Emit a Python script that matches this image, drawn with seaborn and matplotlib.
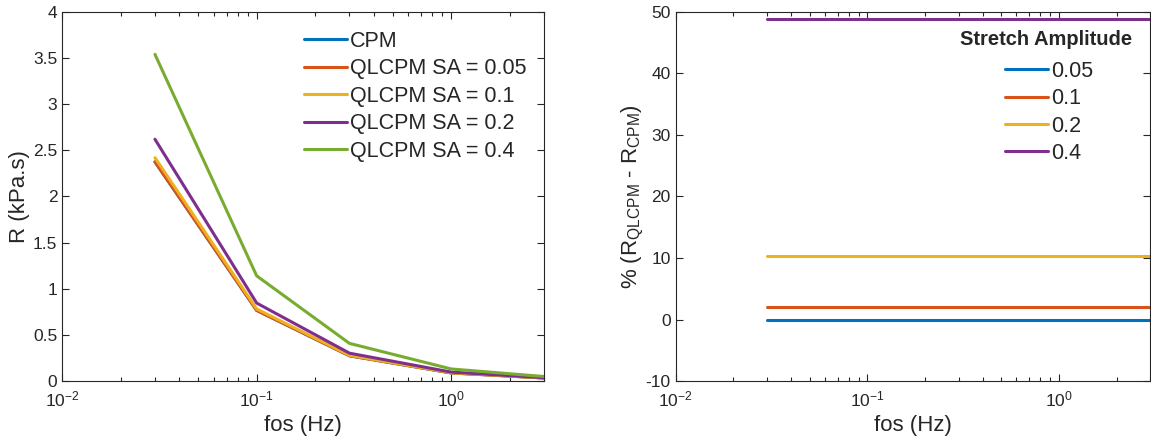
import numpy as np
import pandas as pd
import matplotlib
matplotlib.use("Agg")
import matplotlib.pyplot as plt
import seaborn as sns
from matplotlib.ticker import LogLocator, NullFormatter

# Oscillation frequencies (Hz)
fos = [0.03, 0.1, 0.3, 1.0, 3.0]

# Resistance R (kPa.s) for each model
r_cpm = [2.375, 0.766, 0.274, 0.088, 0.033]
r_sa005 = [2.375, 0.766, 0.274, 0.088, 0.033]
r_sa01 = [2.42, 0.781, 0.279, 0.090, 0.034]
r_sa02 = [2.62, 0.845, 0.302, 0.097, 0.036]
r_sa04 = [3.54, 1.140, 0.408, 0.131, 0.049]

left_labels = ["CPM", "QLCPM SA = 0.05", "QLCPM SA = 0.1",
               "QLCPM SA = 0.2", "QLCPM SA = 0.4"]

# Percent difference of QLCPM relative to CPM for each stretch amplitude
pct_sa005 = [0.0, 0.0, 0.0, 0.0, 0.0]
pct_sa01 = [2.0, 2.0, 2.0, 2.0, 2.0]
pct_sa02 = [10.3, 10.3, 10.3, 10.3, 10.3]
pct_sa04 = [48.8, 48.8, 48.8, 48.8, 48.8]

right_labels = ["0.05", "0.1", "0.2", "0.4"]

colors = ["#0072BD", "#D95319", "#EDB120", "#7E2F8E", "#77AC30"]

sns.set_style("ticks")
plt.rcParams["font.family"] = ["Liberation Sans", "DejaVu Sans"]
plt.rcParams["mathtext.fontset"] = "custom"
plt.rcParams["mathtext.rm"] = "Liberation Sans"
plt.rcParams["mathtext.it"] = "Liberation Sans"
plt.rcParams["axes.unicode_minus"] = False

axis_gray = "#262626"

left_df = pd.concat([
    pd.DataFrame({"fos": fos, "R": vals, "model": name})
    for name, vals in zip(left_labels, [r_cpm, r_sa005, r_sa01, r_sa02, r_sa04])
])
right_df = pd.concat([
    pd.DataFrame({"fos": fos, "pct": vals, "SA": name})
    for name, vals in zip(right_labels, [pct_sa005, pct_sa01, pct_sa02, pct_sa04])
])

fig = plt.figure(figsize=(11.51, 4.40), dpi=100)
ax1 = fig.add_axes([0.054, 0.134, 0.4186, 0.839])
ax2 = fig.add_axes([0.587, 0.134, 0.4125, 0.839])

sns.lineplot(data=left_df, x="fos", y="R", hue="model", palette=colors,
             hue_order=left_labels, linewidth=2.2, ax=ax1, legend=False)
sns.lineplot(data=right_df, x="fos", y="pct", hue="SA", palette=colors[:4],
             hue_order=right_labels, linewidth=2.2, ax=ax2, legend=False)


def style_axis(ax, ylim, yticks):
    ax.set_xscale("log")
    ax.set_xlim(0.01, 3)
    ax.set_ylim(*ylim)
    ax.set_yticks(yticks)
    ax.xaxis.set_major_locator(LogLocator(base=10, numticks=10))
    ax.xaxis.set_minor_locator(LogLocator(base=10, subs=np.arange(2, 10), numticks=20))
    ax.xaxis.set_minor_formatter(NullFormatter())
    ax.tick_params(which="both", direction="in", top=True, right=True,
                   colors=axis_gray, labelsize=12.5, width=0.8)
    ax.tick_params(which="major", length=5)
    ax.tick_params(which="minor", length=3)
    ax.tick_params(axis="x", pad=6)
    for sp in ax.spines.values():
        sp.set_visible(True)
        sp.set_color(axis_gray)
        sp.set_linewidth(0.8)
    ax.set_xlabel("fos (Hz)", fontsize=16, color=axis_gray, labelpad=4)


style_axis(ax1, (0, 4), [0, 0.5, 1, 1.5, 2, 2.5, 3, 3.5, 4])
ax1.set_yticklabels(["0", "0.5", "1", "1.5", "2", "2.5", "3", "3.5", "4"])
ax1.set_ylabel("R (kPa.s)", fontsize=16, color=axis_gray, labelpad=2)
style_axis(ax2, (-10, 50), [-10, 0, 10, 20, 30, 40, 50])
ax2.set_ylabel(r"% (R$_{\mathrm{QLCPM}}$ - R$_{\mathrm{CPM}}$)",
               fontsize=16, color=axis_gray, labelpad=0)

h1 = ax1.get_lines()[:5]
ax1.legend(h1, left_labels, loc="upper left", bbox_to_anchor=(0.502, 0.949),
           frameon=False, fontsize=15.5, handlelength=2.0, handletextpad=0.12,
           labelspacing=0.3, borderpad=0, borderaxespad=0)

h2 = ax2.get_lines()[:4]
ax2.legend(h2, right_labels, loc="upper left", bbox_to_anchor=(0.694, 0.868),
           frameon=False, fontsize=15.5, handlelength=2.0, handletextpad=0.12,
           labelspacing=0.3, borderpad=0, borderaxespad=0)
ax2.text(0.781, 0.924, "Stretch Amplitude", transform=ax2.transAxes,
         ha="center", va="center", fontsize=14.5, fontweight="bold")

fig.savefig("out.png", dpi=100)
